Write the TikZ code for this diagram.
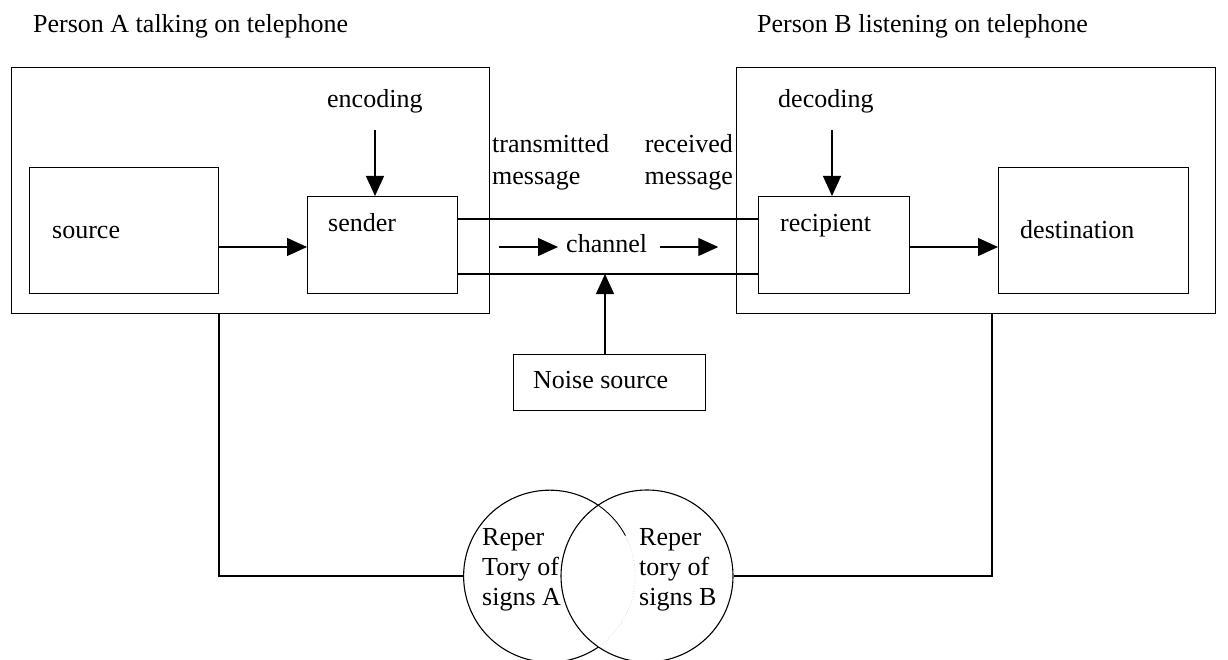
\documentclass[tikz,border=0pt]{standalone}
\usepackage{fontspec}
\setmainfont{Liberation Serif}
\usetikzlibrary{arrows.meta}
\begin{document}
\begin{tikzpicture}[x=1pt,y=1pt,
  lbl/.style={font=\fontsize{26}{30}\selectfont, inner sep=0pt},
  frame/.style={draw, line width=1.2pt, inner sep=0pt, anchor=north west},
  link/.style={line width=1.1pt},
  arr/.style={line width=1.1pt, -{Triangle[length=20pt,width=18pt]}},
  repcircle/.style={circle, inner sep=0pt, minimum size=172pt}]
\useasboundingbox (0,0) rectangle (1228,-660);

% headings
\node[lbl, anchor=base west] (hA) at (33,-33) {Person A talking on telephone};
\node[lbl, anchor=base west] (hB) at (757,-33) {Person B listening on telephone};

% the two telephone ends
\node[frame, minimum width=478pt, minimum height=246pt] (boxA) at (11,-67) {};
\node[frame, minimum width=479pt, minimum height=246pt] (boxB) at (736,-67) {};

% inner boxes
\node[frame, minimum width=189pt, minimum height=126pt] (src) at (29,-167) {};
\node[frame, minimum width=150pt, minimum height=97pt] (snd) at (307,-196) {};
\node[frame, minimum width=151pt, minimum height=97pt] (rcp) at (758,-196) {};
\node[frame, minimum width=190pt, minimum height=126pt] (dst) at (998,-167) {};
\node[frame, minimum width=192pt, minimum height=56pt] (noise) at (513,-354) {};

% box texts
\node[lbl, anchor=base west] (tsrc) at (52,-239) {source};
\node[lbl, anchor=base west] (tsnd) at (328,-232) {sender};
\node[lbl, anchor=base west] (trcp) at (780,-232) {recipient};
\node[lbl, anchor=base west] (tdst) at (1020,-239) {destination};
\node[lbl, anchor=base west] (tnoise) at (533,-388) {Noise source};

% coding labels
\node[lbl, anchor=base west] (enc) at (327,-108) {encoding};
\node[lbl, anchor=base west] (dec) at (778,-108) {decoding};

% message labels (base anchor sits on the last line)
\node[lbl, anchor=base west, align=left] (tm) at (492,-185) {transmitted\\[2pt]message};
\node[lbl, anchor=base east, align=right] (rm) at (733,-185) {received\\[2pt]message};

% channel
\node[lbl, anchor=base west] (ch) at (566,-253) {channel};
\coordinate (chT) at (0,-219);
\coordinate (chB) at (0,-274);
\coordinate (mid) at (0,-247);
\draw[link] (snd.east |- chT) -- (rcp.west |- chT);
\draw[link] (snd.east |- chB) -- (rcp.west |- chB);
\draw[arr] ([xshift=-67pt]ch.west |- mid) -- ([xshift=-8pt]ch.west |- mid);
\draw[arr] ([xshift=13pt]ch.east |- mid) -- ([xshift=71pt]ch.east |- mid);

% flow arrows
\draw[arr] (src.east |- mid) -- (snd.west |- mid);
\draw[arr] (rcp.east |- mid) -- (dst.west |- mid);
\coordinate (encx) at (375,-130);
\coordinate (decx) at (832,-130);
\draw[arr] (encx) -- (encx |- snd.north);
\draw[arr] (decx) -- (decx |- rcp.north);
\coordinate (nx) at (605,0);
\draw[arr] (nx |- noise.north) -- (nx |- chB);

% repertories of signs
\node[repcircle] (repA) at (549,-576) {};
\node[repcircle, draw, line width=1.1pt] (repB) at (647,-576) {};
\draw[line width=1.1pt] (repA.55.4) arc[start angle=55.4, end angle=304.6, radius=86pt];
\draw[line width=0.9pt] (repA.55.4) arc[start angle=55.4, end angle=28, radius=86pt];
\draw[line width=0.6pt, gray!45, dotted] (repA.28) arc[start angle=28, end angle=-55.4, radius=86pt];

\node[lbl, anchor=base west, align=left] (tA) at (482,-605) {Reper\\Tory of\\signs A};
\node[lbl, anchor=base west, align=left] (tB) at (639,-605) {Reper\\tory of\\signs B};

% links to the repertories
\coordinate (la) at (219,-576);
\coordinate (lb) at (992,-576);
\draw[link] (la |- boxA.south) -- (la) -- (repA.west);
\draw[link] (lb |- boxB.south) -- (lb) -- (repB.east);
\end{tikzpicture}
\end{document}
